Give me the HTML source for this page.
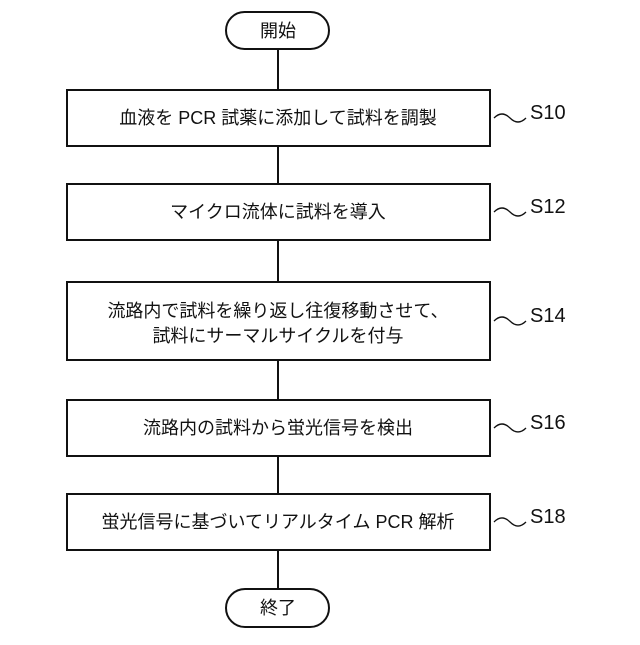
<!DOCTYPE html>
<html><head><meta charset="utf-8"><style>
html,body{margin:0;padding:0;background:#fff;}
svg text{font-family:"Liberation Sans","Noto Sans CJK JP",sans-serif;fill:#111;}
</style></head><body>
<svg width="640" height="640" viewBox="0 0 640 640" xmlns="http://www.w3.org/2000/svg">
<g stroke="#111" stroke-width="2" fill="none">
<line x1="278" y1="49" x2="278" y2="90"/>
<line x1="278" y1="146" x2="278" y2="184"/>
<line x1="278" y1="240" x2="278" y2="282"/>
<line x1="278" y1="360" x2="278" y2="400"/>
<line x1="278" y1="456" x2="278" y2="494"/>
<line x1="278" y1="550" x2="278" y2="589"/>
<rect x="226" y="12" width="103" height="37" rx="18.5" fill="#fff"/>
<rect x="226" y="589" width="103" height="38" rx="19" fill="#fff"/>
<rect x="67" y="90" width="423" height="56" fill="#fff"/>
<rect x="67" y="184" width="423" height="56" fill="#fff"/>
<rect x="67" y="282" width="423" height="78" fill="#fff"/>
<rect x="67" y="400" width="423" height="56" fill="#fff"/>
<rect x="67" y="494" width="423" height="56" fill="#fff"/>
</g>
<g stroke="#111" stroke-width="1.3" fill="none">
<path d="M494 118 q8 -8 16 0 t16 0"/>
<path d="M494 212 q8 -8 16 0 t16 0"/>
<path d="M494 321 q8 -8 16 0 t16 0"/>
<path d="M494 428 q8 -8 16 0 t16 0"/>
<path d="M494 522 q8 -8 16 0 t16 0"/>
</g>
<g font-size="18" text-anchor="middle">
<text x="278" y="37">開始</text>
<text x="278" y="614">終了</text>
<text x="278" y="124">血液を PCR 試薬に添加して試料を調製</text>
<text x="278" y="218">マイクロ流体に試料を導入</text>
<text x="278" y="317">流路内で試料を繰り返し往復移動させて、</text>
<text x="278" y="342">試料にサーマルサイクルを付与</text>
<text x="278" y="434">流路内の試料から蛍光信号を検出</text>
<text x="278" y="528">蛍光信号に基づいてリアルタイム PCR 解析</text>
</g>
<g font-size="20">
<text x="530" y="119">S10</text>
<text x="530" y="213">S12</text>
<text x="530" y="322">S14</text>
<text x="530" y="429">S16</text>
<text x="530" y="523">S18</text>
</g>
</svg>
</body></html>
